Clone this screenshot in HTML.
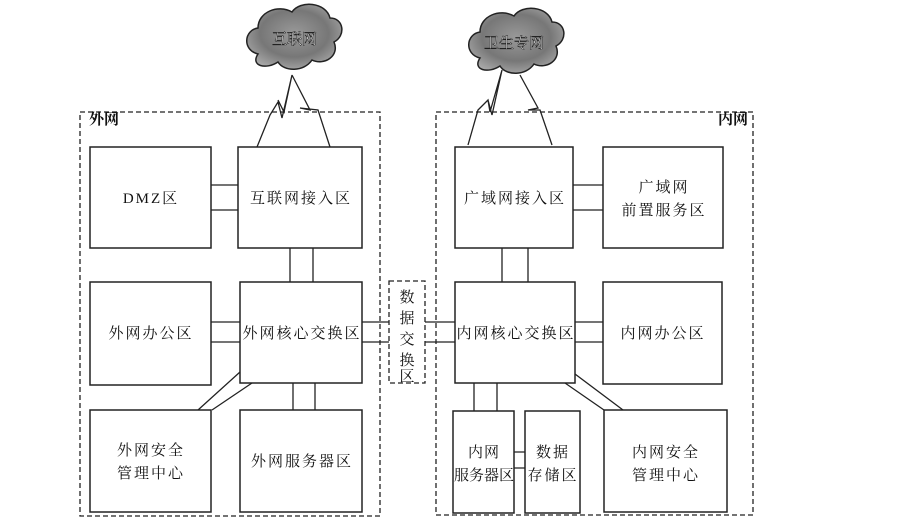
<!DOCTYPE html>
<html><head><meta charset="utf-8"><style>body{margin:0;background:#fff}svg{display:block}text{font-family:"Liberation Serif","Noto Serif CJK SC",serif;font-size:15px;fill:#111;letter-spacing:2px}</style></head><body>
<svg width="899" height="529" viewBox="0 0 899 529" xmlns="http://www.w3.org/2000/svg">
<defs><radialGradient id="g" cx="50%" cy="45%" r="60%"><stop offset="0" stop-color="#999"/><stop offset="0.6" stop-color="#777"/><stop offset="1" stop-color="#aaa"/></radialGradient></defs>
<g fill="none" stroke="#222" stroke-width="1.3" stroke-dasharray="5,3">
<rect x="80" y="112" width="300" height="404"/>
<rect x="436" y="112" width="317" height="403"/>
<rect x="389" y="281" width="36" height="102"/>
</g>
<g fill="#fff" stroke="#222" stroke-width="1.5">
<rect x="90" y="147" width="121" height="101"/>
<rect x="238" y="147" width="124" height="101"/>
<rect x="90" y="282" width="121" height="103"/>
<rect x="240" y="282" width="122" height="101"/>
<rect x="90" y="410" width="121" height="102"/>
<rect x="240" y="410" width="122" height="102"/>
<rect x="455" y="147" width="118" height="101"/>
<rect x="603" y="147" width="120" height="101"/>
<rect x="455" y="282" width="120" height="101"/>
<rect x="603" y="282" width="119" height="102"/>
<rect x="453" y="411" width="61" height="102"/>
<rect x="525" y="411" width="55" height="102"/>
<rect x="604" y="410" width="123" height="102"/>
</g>
<g stroke="#222" stroke-width="1.3" fill="none">
<path d="M211 185H238M211 210H238M290 248V282M313 248V282M211 322H240M211 342H240M293 383V410M315 383V410M240 372L198 410M252 383L212 410"/>
<path d="M362 322H389M362 342H389M425 322H455M425 342H455"/>
<path d="M573 185H603M573 210H603M502 248V282M528 248V282M575 322H603M575 342H603M474 383V411M497 383V411M514 452H525M514 468H525M575 374L623 410M565 383L604 410"/>
<path d="M257 147L270 115L278 102L282 118L292 75L284 112L278 100M292 75L310 110L300 108L318 110L330 147"/>
<path d="M468 145L478 110L488 100L490 112L502 70L492 115L488 100M520 75L538 108L528 110L540 110L552 145"/>
</g>
<g stroke="#222" stroke-width="1.5" fill="url(#g)">
<path d="M258 54C242 50 244 30 258 28C258 12 278 4 292 12C300 0 326 2 330 18C344 18 346 36 334 42C340 56 324 66 312 60C304 72 284 72 278 62C266 70 250 66 258 54Z"/>
<path d="M480 58C464 54 466 34 480 32C480 16 500 8 514 16C522 4 548 6 552 22C566 22 568 40 556 46C562 60 546 70 534 64C526 76 506 76 500 66C488 74 472 70 480 58Z"/>
</g>
<g font-size="14">
<text x="272" y="44" style="fill:#fff;stroke:#000;stroke-width:0.4;letter-spacing:0">互联网</text>
<text x="484" y="48" style="fill:#fff;stroke:#000;stroke-width:0.4;letter-spacing:0">卫生专网</text>
</g>
<text x="89" y="124" style="font-weight:bold;letter-spacing:0">外网</text>
<text x="718" y="124" style="font-weight:bold;letter-spacing:0">内网</text>
<g text-anchor="middle">
<text x="151" y="203">DMZ区</text>
<text x="301" y="203">互联网接入区</text>
<text x="151" y="338">外网办公区</text>
<text x="302" y="338">外网核心交换区</text>
<text x="151" y="455">外网安全</text><text x="151" y="478">管理中心</text>
<text x="302" y="466">外网服务器区</text>
<text x="515" y="203">广域网接入区</text>
<text x="664" y="192">广域网</text><text x="664" y="215">前置服务区</text>
<text x="516" y="338">内网核心交换区</text>
<text x="663" y="338">内网办公区</text>
<text x="484" y="457" style="letter-spacing:1px">内网</text><text x="484" y="480" style="letter-spacing:0">服务器区</text>
<text x="553" y="457">数据</text><text x="553" y="480">存储区</text>
<text x="666" y="457">内网安全</text><text x="666" y="480">管理中心</text>
<text x="408" y="302">数</text><text x="408" y="323">据</text><text x="408" y="344">交</text><text x="408" y="365">换</text><text x="408" y="381" font-size="14">区</text>
</g>
</svg>
</body></html>
